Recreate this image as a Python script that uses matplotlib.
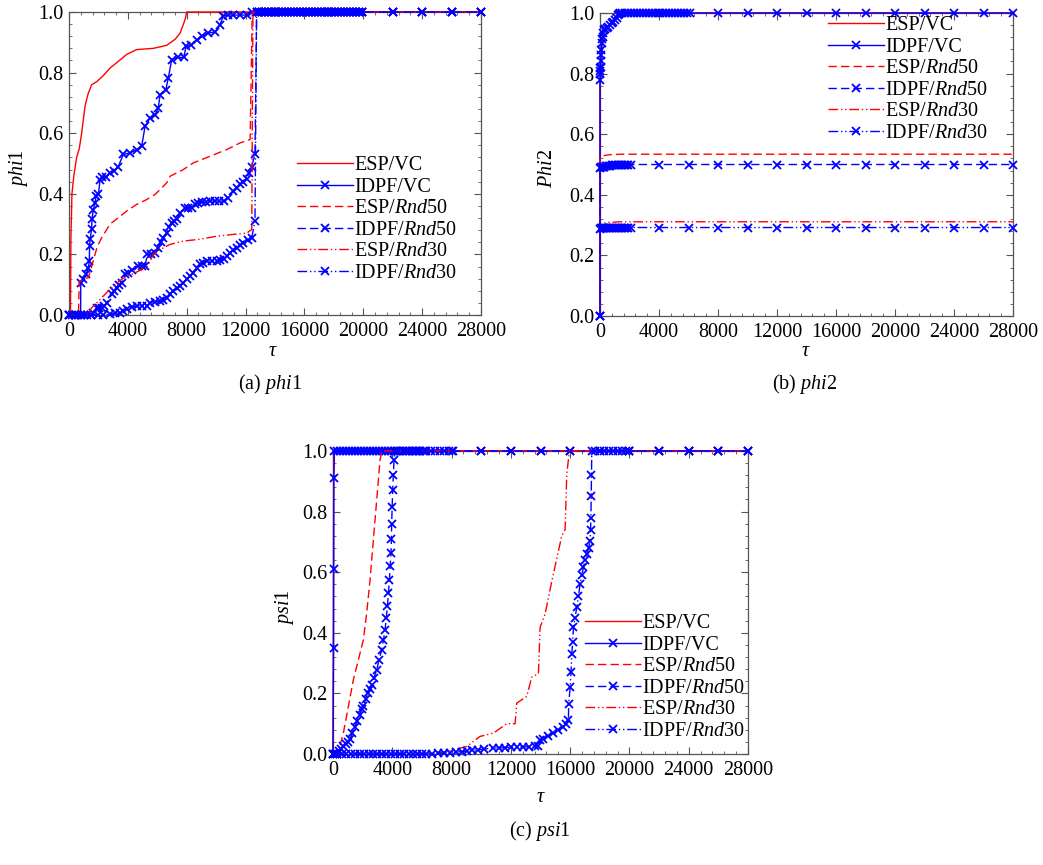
import matplotlib
matplotlib.use('Agg')
import matplotlib.pyplot as plt
from matplotlib.ticker import MultipleLocator, FormatStrFormatter

plt.rcParams['font.family'] = 'serif'
plt.rcParams['font.serif'] = ['Liberation Serif', 'DejaVu Serif']
plt.rcParams['mathtext.fontset'] = 'custom'
plt.rcParams['mathtext.rm'] = 'Liberation Serif'
plt.rcParams['mathtext.it'] = 'Liberation Serif:italic'

RED = '#ff0000'
BLUE = '#0000ff'

labels = ['ESP/VC', 'IDPF/VC', r'ESP/$\mathit{Rnd}$50', r'IDPF/$\mathit{Rnd}$50',
          r'ESP/$\mathit{Rnd}$30', r'IDPF/$\mathit{Rnd}$30']
x_ticks = [0, 4000, 8000, 12000, 16000, 20000, 24000, 28000]

# ---------------- (a) phi1 ----------------
a_esp_vc_x = [0, 100, 130, 200, 330, 520, 700, 860, 1090, 1300, 1540, 1880, 2330, 2790, 3350, 3920, 4600, 5730, 6640, 7210, 7550, 7890, 8000, 28000]
a_esp_vc_y = [0, 0, 0.25, 0.40, 0.46, 0.52, 0.55, 0.60, 0.69, 0.73, 0.76, 0.77, 0.79, 0.815, 0.837, 0.86, 0.876, 0.88, 0.89, 0.91, 0.93, 0.975, 1.0, 1.0]

a_idpf_vc_x = [0, 200, 400, 600, 790, 800, 975, 1155, 1315, 1380, 1400, 1430, 1540, 1560, 1655, 1770, 1840, 2000, 2110, 2220, 2500,
               2790, 3050, 3350, 3690, 4150, 4600, 4940, 5170, 5510, 5850, 6070, 6190, 6580, 6750, 6980, 7430, 7800, 7960, 8300,
               8680, 9020, 9470, 9930, 10270, 10490, 10800, 11170, 11600, 12070, 12420]
a_idpf_vc_y = [0, 0, 0, 0, 0, 0.107, 0.118, 0.134, 0.156, 0.178, 0.227, 0.25, 0.283, 0.316, 0.348, 0.37, 0.392, 0.398, 0.447, 0.455, 0.455,
               0.47, 0.475, 0.49, 0.53, 0.535, 0.546, 0.557, 0.623, 0.65, 0.66, 0.684, 0.727, 0.744, 0.782, 0.843, 0.85, 0.85, 0.887, 0.89,
               0.909, 0.92, 0.93, 0.935, 0.958, 0.988, 0.99, 0.99, 0.99, 0.99, 1.0]

a_esp_r50_x = [0, 640, 700, 975, 1315, 1540, 1770, 1930, 2220, 2790, 3350, 3920, 4600, 5280, 5850, 6190, 6640, 6870, 7770, 8450, 9590, 10720, 11630, 12310, 12450, 28000]
a_esp_r50_y = [0, 0, 0.109, 0.118, 0.123, 0.16, 0.2, 0.227, 0.255, 0.3, 0.321, 0.343, 0.365, 0.381, 0.398, 0.414, 0.436, 0.458, 0.48, 0.502, 0.524, 0.546, 0.568, 0.579, 1.0, 1.0]

a_idpf_r50_x = [0, 400, 800, 1200, 1500, 1655, 1880, 2050, 2220, 2400, 2560, 2900, 3070, 3240, 3400, 3580, 3810, 4000, 4260, 4710, 4940,
                5160, 5330, 5600, 5850, 6070, 6250, 6410, 6630, 6800, 6980, 7150, 7320, 7550, 7890, 8100, 8340, 8570, 8800, 9020, 9300,
                9590, 9900, 10200, 10500, 10830, 11170, 11400, 11620, 11850, 12070, 12250, 12410, 12640, 12750]
a_idpf_r50_y = [0, 0, 0, 0, 0, 0.008, 0.024, 0.024, 0.024, 0.03, 0.04, 0.068, 0.08, 0.09, 0.1, 0.107, 0.134, 0.14, 0.15, 0.162, 0.162,
                0.162, 0.2, 0.2, 0.205, 0.222, 0.24, 0.255, 0.27, 0.29, 0.305, 0.31, 0.316, 0.337, 0.354, 0.354, 0.354, 0.365, 0.37, 0.372, 0.374,
                0.376, 0.376, 0.376, 0.376, 0.387, 0.409, 0.42, 0.431, 0.44, 0.45, 0.47, 0.49, 0.53, 1.0]

a_esp_r30_x = [0, 1200, 1315, 1540, 1880, 2220, 2560, 3010, 3580, 4260, 4940, 5330, 5730, 6190, 6870, 7770, 8900, 10040, 11170, 12070, 12420, 12500, 28000]
a_esp_r30_y = [0, 0, 0.005, 0.024, 0.04, 0.057, 0.074, 0.096, 0.118, 0.134, 0.15, 0.16, 0.2, 0.216, 0.233, 0.244, 0.25, 0.26, 0.266, 0.27, 0.282, 1.0, 1.0]

a_idpf_r30_x = [0, 500, 1000, 1500, 2000, 2330, 2790, 3130, 3470, 3700, 3920, 4260, 4600, 4940, 5280, 5510, 5850, 6190, 6420, 6640,
                6870, 7090, 7320, 7550, 7780, 8000, 8220, 8450, 8680, 8900, 9130, 9360, 9700, 10040, 10270, 10500, 10730, 10950, 11170,
                11400, 11620, 11850, 12140, 12420, 12640, 12750]
a_idpf_r30_y = [0, 0, 0, 0, 0, 0, 0.003, 0.005, 0.008, 0.013, 0.019, 0.025, 0.03, 0.03, 0.03, 0.041, 0.044, 0.046, 0.05, 0.057,
                0.068, 0.08, 0.088, 0.096, 0.107, 0.118, 0.13, 0.14, 0.155, 0.167, 0.173, 0.178, 0.178, 0.178, 0.18, 0.184, 0.195, 0.206, 0.214,
                0.222, 0.23, 0.239, 0.247, 0.255, 0.31, 1.0]

# samples where the IDPF curves sit at 1.0 in (a)
a_top_x = [12900, 13100, 13300, 13500, 13700, 13900, 14100, 14300, 14500, 14700, 14900, 15100, 15300, 15500, 15700, 15900, 16100,
           16300, 16500, 16700, 16900, 17100, 17300, 17500, 17700, 17900, 18100, 18300, 18500, 18700, 18900, 19100, 19300, 19500,
           19700, 19900, 22000, 24000, 26000, 28000]

# ---------------- (b) phi2 ----------------
b_esp_vc_x = [0, 0, 45, 113, 180, 270, 565, 790, 1017, 1240, 1356, 28000]
b_esp_vc_y = [0, 0.78, 0.823, 0.878, 0.922, 0.944, 0.958, 0.972, 0.985, 0.995, 1.0, 1.0]

b_idpf_vc_x = [0, 0, 10, 20, 30, 45, 60, 80, 100, 130, 160, 180, 220, 270, 350, 450, 565, 680, 790, 900, 1017, 1130, 1240, 1300, 1356]
b_idpf_vc_y = [0, 0.78, 0.8, 0.81, 0.82, 0.823, 0.84, 0.86, 0.878, 0.9, 0.915, 0.922, 0.935, 0.944, 0.948, 0.952, 0.955, 0.96, 0.966,
               0.971, 0.977, 0.985, 0.993, 0.997, 1.0]
b_top_vc_x = [1500, 1700, 1900, 2100, 2300, 2500, 2700, 2900, 3100, 3300, 3500, 3700, 3900, 4100, 4300, 4500, 4700, 4900, 5100,
              5300, 5500, 5700, 5900, 6100, 8000, 10000, 12000, 14000, 16000, 18000, 20000, 22000, 24000, 26000, 28000]

b_esp_r50_x = [0, 0, 100, 600, 1400, 28000]
b_esp_r50_y = [0, 0.52, 0.528, 0.532, 0.534, 0.534]
b_esp_r30_x = [0, 0, 100, 600, 1400, 28000]
b_esp_r30_y = [0, 0.30, 0.305, 0.309, 0.311, 0.311]

b_idpf_rnd_x = [0, 0, 60, 120, 180, 240, 300, 400, 500, 600, 700, 800, 900, 1000, 1100, 1200, 1300, 1400, 1500, 1600, 1700, 1800,
                1900, 2100, 4000, 6000, 8000, 10000, 12000, 14000, 16000, 18000, 20000, 22000, 24000, 26000, 28000]
b_idpf_r50_y = [0, 0.49, 0.491, 0.492, 0.492, 0.493, 0.493, 0.494, 0.495, 0.495, 0.496, 0.497, 0.497, 0.498, 0.499, 0.5, 0.5, 0.5, 0.5,
                0.5, 0.5, 0.5, 0.5, 0.5, 0.5, 0.5, 0.5, 0.5, 0.5, 0.5, 0.5, 0.5, 0.5, 0.5, 0.5, 0.5, 0.5]
b_idpf_r30_y = [0, 0.288, 0.289, 0.289, 0.29, 0.29, 0.29, 0.29, 0.291, 0.291, 0.291, 0.291, 0.292, 0.292, 0.292, 0.292, 0.292, 0.292,
                0.292, 0.292, 0.292, 0.292, 0.292, 0.292, 0.292, 0.292, 0.292, 0.292, 0.292, 0.292, 0.292, 0.292, 0.292, 0.292, 0.292,
                0.292, 0.292]

# ---------------- (c) psi1 ----------------
c_esp_vc_x = [0, 40, 28000]
c_esp_vc_y = [0, 1.0, 1.0]

c_idpf_vc_x = [0, 40, 50, 60, 100, 300, 500, 700, 900, 1100, 1300, 1500, 1700, 1900, 2100, 2300, 2500, 2700, 2900, 3100, 3300, 3500,
               3700, 3900, 4100, 4300, 4500, 4700, 4900, 5100, 5300, 5500, 5700, 5900, 6100, 6300, 6600, 6900, 7200, 7500, 7800, 8100,
               10000, 12000, 14000, 16000, 18000, 20000, 22000, 24000, 26000, 28000]
c_idpf_vc_y = [0, 0.35, 0.61, 0.91, 1.0, 1.0, 1.0, 1.0, 1.0, 1.0, 1.0, 1.0, 1.0, 1.0, 1.0, 1.0, 1.0, 1.0, 1.0, 1.0, 1.0, 1.0,
               1.0, 1.0, 1.0, 1.0, 1.0, 1.0, 1.0, 1.0, 1.0, 1.0, 1.0, 1.0, 1.0, 1.0, 1.0, 1.0, 1.0, 1.0, 1.0, 1.0,
               1.0, 1.0, 1.0, 1.0, 1.0, 1.0, 1.0, 1.0, 1.0, 1.0]

c_esp_r50_x = [0, 360, 695, 1033, 1370, 1708, 2045, 2270, 2498, 2723, 2948, 3173, 3285, 28000]
c_esp_r50_y = [0, 0.008, 0.068, 0.156, 0.244, 0.31, 0.376, 0.464, 0.574, 0.706, 0.838, 0.97, 1.0, 1.0]

c_idpf_r50_x = [0, 150, 250, 400, 550, 700, 850, 1000, 1150, 1300, 1485, 1650, 1800, 1950, 2045, 2200, 2350, 2500, 2610, 2750, 2948,
                3100, 3285, 3400, 3510, 3600, 3668, 3740, 3803, 3860, 3915, 3940, 3960, 3990, 4028, 4070, 4118, 4185, 4400, 4700,
                5000, 5300, 5600, 5900, 6200, 8000, 10000, 12000, 14000, 16000, 20000, 22000, 24000, 26000, 28000]
c_idpf_r50_y = [0, 0, 0, 0.01, 0.018, 0.026, 0.034, 0.04, 0.05, 0.07, 0.09, 0.11, 0.13, 0.147, 0.157, 0.18, 0.2, 0.215, 0.228, 0.25, 0.277,
                0.31, 0.343, 0.375, 0.409, 0.45, 0.487, 0.53, 0.574, 0.62, 0.662, 0.71, 0.76, 0.815, 0.87, 0.92, 0.97, 1.0, 1.0, 1.0,
                1.0, 1.0, 1.0, 1.0, 1.0, 1.0, 1.0, 1.0, 1.0, 1.0, 1.0, 1.0, 1.0, 1.0, 1.0]

c_esp_r30_x = [0, 6300, 7673, 9023, 9923, 10823, 11723, 12285, 12398, 13073, 13410, 13860, 13973, 14310, 14760, 15210, 15435, 15660, 15773, 15953, 28000]
c_esp_r30_y = [0, 0, 0.008, 0.025, 0.058, 0.069, 0.1, 0.1, 0.168, 0.19, 0.254, 0.265, 0.418, 0.462, 0.57, 0.67, 0.72, 0.74, 0.925, 1.0, 1.0]

c_idpf_r30_x = [0, 300, 600, 900, 1200, 1500, 1800, 2100, 2400, 2700, 3000, 3300, 3600, 3900, 4200, 4500, 4800, 5100, 5400, 5700,
                6000, 6300, 6700, 7100, 7500, 7900, 8300, 8700, 9023, 9400, 9800, 10200, 10823, 11200, 11600, 12000, 12400, 12800,
                13200, 13600, 13860, 13973, 14200, 14500, 14873, 15200, 15548, 15750, 15885, 15900, 16000, 16060, 16110, 16170,
                16223, 16330, 16448, 16560, 16673, 16780, 16898, 17000, 17123, 17250, 17348, 17380, 17400, 17420, 17440, 17460,
                17700, 18000, 18300, 18600, 18900, 19200, 19500, 19800, 20000, 22000, 24000, 26000, 28000]
c_idpf_r30_y = [0, 0, 0, 0, 0, 0, 0, 0, 0, 0, 0, 0, 0, 0, 0, 0, 0, 0, 0, 0,
                0, 0, 0.001, 0.002, 0.003, 0.004, 0.006, 0.008, 0.01, 0.012, 0.014, 0.016, 0.02, 0.02, 0.021, 0.022, 0.022, 0.023,
                0.024, 0.025, 0.025, 0.046, 0.05, 0.06, 0.069, 0.08, 0.09, 0.1, 0.112, 0.165, 0.22, 0.27, 0.33, 0.37,
                0.418, 0.45, 0.484, 0.52, 0.561, 0.59, 0.616, 0.64, 0.66, 0.68, 0.704, 0.74, 0.78, 0.85, 0.92, 1.0,
                1.0, 1.0, 1.0, 1.0, 1.0, 1.0, 1.0, 1.0, 1.0, 1.0, 1.0, 1.0, 1.0]

DASH = (6, 3)
DASHDOTDOT = (7, 2, 1, 2, 1, 2)
styles = [
    dict(color=RED, linestyle='-'),
    dict(color=BLUE, linestyle='-', marker='x'),
    dict(color=RED, dashes=DASH),
    dict(color=BLUE, dashes=DASH, marker='x'),
    dict(color=RED, dashes=DASHDOTDOT),
    dict(color=BLUE, dashes=DASHDOTDOT, marker='x'),
]

W, H = 1043, 865
fig = plt.figure(figsize=(W / 100, H / 100), dpi=100)


def axes_px(left, top, right, bottom):
    return fig.add_axes([left / W, 1 - bottom / H, (right - left) / W, (bottom - top) / H])


def panel(ax, series, legend_px):
    for (x, y), lab, st in zip(series, labels, styles):
        ax.plot(x, y, label=lab, lw=1.0, ms=6, mew=1.3, clip_on=False, zorder=3, **st)
    ax.set_xlim(0, 28000)
    ax.set_ylim(0, 1.0)
    ax.set_xticks(x_ticks)
    ax.xaxis.set_minor_locator(MultipleLocator(800))
    ax.yaxis.set_major_locator(MultipleLocator(0.2))
    ax.yaxis.set_minor_locator(MultipleLocator(0.04))
    ax.yaxis.set_major_formatter(FormatStrFormatter('%.1f'))
    ax.tick_params(which='both', direction='in', top=True, right=True, color='#555555', labelsize=14.5)
    ax.tick_params(which='major', length=5)
    ax.tick_params(which='minor', length=2.5)
    ax.tick_params(axis='x', which='major', pad=5)
    ax.tick_params(axis='y', which='major', pad=4)
    for s in ax.spines.values():
        s.set_color('#555555')
        s.set_linewidth(0.9)
    ax.legend(loc='upper left', bbox_to_anchor=(legend_px[0] / W, 1 - legend_px[1] / H),
              bbox_transform=fig.transFigure, frameon=False, fontsize=14.5, handlelength=2.8,
              handletextpad=0.05, labelspacing=0.12, borderpad=0, borderaxespad=0, numpoints=1)


ax_a = axes_px(69, 12, 481, 315)
panel(ax_a, [(a_esp_vc_x, a_esp_vc_y),
             (a_idpf_vc_x + a_top_x, a_idpf_vc_y + [1.0] * len(a_top_x)),
             (a_esp_r50_x, a_esp_r50_y),
             (a_idpf_r50_x + a_top_x, a_idpf_r50_y + [1.0] * len(a_top_x)),
             (a_esp_r30_x, a_esp_r30_y),
             (a_idpf_r30_x + a_top_x, a_idpf_r30_y + [1.0] * len(a_top_x))], (297, 156))

ax_b = axes_px(600, 13, 1013, 316)
panel(ax_b, [(b_esp_vc_x, b_esp_vc_y),
             (b_idpf_vc_x + b_top_vc_x, b_idpf_vc_y + [1.0] * len(b_top_vc_x)),
             (b_esp_r50_x, b_esp_r50_y),
             (b_idpf_rnd_x, b_idpf_r50_y),
             (b_esp_r30_x, b_esp_r30_y),
             (b_idpf_rnd_x, b_idpf_r30_y)], (828, 16))

ax_c = axes_px(333, 451, 748, 754)
panel(ax_c, [(c_esp_vc_x, c_esp_vc_y),
             (c_idpf_vc_x, c_idpf_vc_y),
             (c_esp_r50_x, c_esp_r50_y),
             (c_idpf_r50_x, c_idpf_r50_y),
             (c_esp_r30_x, c_esp_r30_y),
             (c_idpf_r30_x, c_idpf_r30_y)], (585, 614))


# axis titles and captions
def ftext(px, py, s, **kw):
    fig.text(px / W, 1 - py / H, s, ha='center', va='center', fontsize=14.5, **kw)


ftext(18, 168, r'$\mathit{phi}$1', rotation=90)
ftext(548, 168, r'$\mathit{Phi2}$', rotation=90)
ftext(284, 607, r'$\mathit{psi}$1', rotation=90)

ftext(272, 352, 'τ', style='italic')
ftext(805, 352, 'τ', style='italic')
ftext(540, 798, 'τ', style='italic')

ftext(270, 384, r'(a) $\mathit{phi}$1')
ftext(805, 384, r'(b) $\mathit{phi}$2')
ftext(540, 831, r'(c) $\mathit{psi}$1')

fig.savefig('out.png', dpi=100)
